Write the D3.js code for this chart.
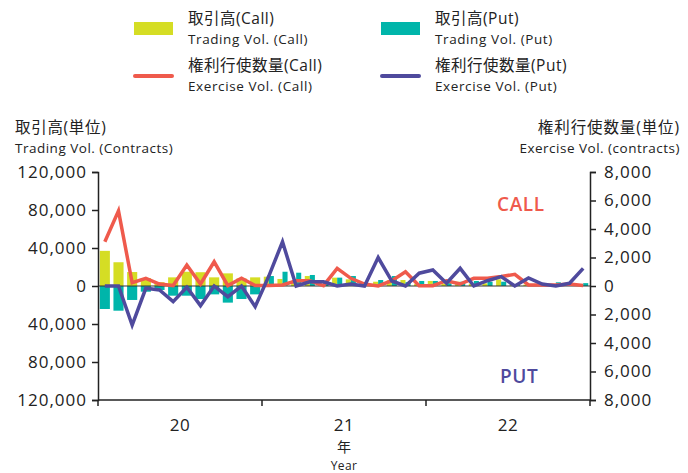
<!DOCTYPE html>
<html><head><meta charset="utf-8">
<script src="https://cdn.jsdelivr.net/npm/d3@7"></script>
<style>
body{margin:0;background:#fff;}
svg text{font-family:"Open Sans","Noto Sans CJK JP",sans-serif;fill:#222;}
</style></head>
<body><svg id="c" width="688" height="473"></svg>
<script>
const years = ["20","21","22"];
const months = [];
years.forEach(y => { for (let m = 1; m <= 12; m++) months.push(y + "-" + String(m).padStart(2,"0")); });

const callVol = [37000,25000,14700,8400,4000,9100,15000,14500,9100,13300,8000,9100,
                 9800,7400,3000,10500,2000,8800,7000,2000,4500,6000,6300,2000,
                 5300,2500,4500,2500,2800,7000,2000,1500,1500,1500,1000,1000];
const putVol  = [-24200,-26000,-14700,-6000,-4200,-10200,-10200,-13700,-8800,-17500,-13700,-8800,
                 10500,15000,14000,11600,3000,8800,10500,2500,6300,10500,4000,5300,
                 5300,3000,4500,5300,4500,4500,2000,2000,1500,3900,1500,3000];
const callEx  = [3100,5270,230,540,140,30,1470,140,1700,30,540,30,
                 30,70,370,370,30,1240,540,140,0,370,1000,20,
                 20,370,140,540,540,660,820,70,70,70,140,30];
const putEx   = [0,0,-2740,-160,-280,-1100,-90,-1380,0,-750,0,-1450,
                 700,3100,0,300,300,0,140,0,2000,350,0,900,
                 1120,190,1240,0,370,660,0,560,140,0,190,1240];
const leftTicks = [-120000,-80000,-40000,0,40000,80000,120000];
const rightTicks = [-8000,-6000,-4000,-2000,0,2000,4000,6000,8000];

const C_CALL = "#d5dd24", C_PUT = "#00b5aa", C_CEX = "#ef5a4c", C_PEX = "#4f4a9d";
const svg = d3.select("#c");
const x0 = 98, x1 = 590, yT = 172, yB = 400;
const x = d3.scaleBand().domain(months).range([x0, x1]).padding(0);
const xYear = d3.scaleBand().domain(years).range([x0, x1]).padding(0);
const yL = d3.scaleLinear().domain([-120000,120000]).range([yB, yT]);
const yR = d3.scaleLinear().domain([-8000,8000]).range([yB, yT]);
const fmt = d => d3.format(",")(Math.abs(d));

// bars
const gw = x.bandwidth() * 0.74;
const bars = svg.append("g");
months.forEach((m, i) => {
  const cx = x(m) + x.bandwidth() / 2;
  const split = putVol[i] >= 0;
  const w = split ? gw / 2 : gw;
  const xc = cx - gw / 2;
  const xp = split ? cx : cx - gw / 2;
  bars.append("rect").attr("x", xc).attr("width", w)
    .attr("y", yL(Math.max(0, callVol[i]))).attr("height", Math.abs(yL(callVol[i]) - yL(0)))
    .attr("fill", C_CALL);
  bars.append("rect").attr("x", xp).attr("width", w)
    .attr("y", yL(Math.max(0, putVol[i]))).attr("height", Math.abs(yL(putVol[i]) - yL(0)))
    .attr("fill", C_PUT);
});

// zero line
svg.append("line").attr("x1", x0).attr("x2", x1).attr("y1", yL(0)).attr("y2", yL(0))
  .attr("stroke", "#333").attr("stroke-width", 1.2);

// lines
const mx = i => x(months[i]) + x.bandwidth() / 2;
const lineC = d3.line().x((d, i) => mx(i)).y(d => yR(d));
svg.append("path").attr("d", lineC(callEx)).attr("fill", "none")
  .attr("stroke", C_CEX).attr("stroke-width", 3.5);
svg.append("path").attr("d", lineC(putEx)).attr("fill", "none")
  .attr("stroke", C_PEX).attr("stroke-width", 3.5);

// axes
const axL = svg.append("g").attr("transform", `translate(${x0},0)`)
  .call(d3.axisLeft(yL).tickValues(leftTicks).tickFormat(fmt).tickSizeOuter(0).tickSize(6).tickPadding(5));
const axR = svg.append("g").attr("transform", `translate(${x1},0)`)
  .call(d3.axisRight(yR).tickValues(rightTicks).tickFormat(fmt).tickSizeOuter(0).tickSize(6).tickPadding(8));
[axL, axR].forEach(a => {
  a.select(".domain").attr("stroke", "#222").attr("stroke-width", 1.5);
  a.selectAll(".tick line").attr("stroke", "#222").attr("stroke-width", 1.5);
  a.selectAll(".tick text").attr("font-size", 17).attr("fill", "#222").attr("letter-spacing", 1)
    .style("font-family", '"Open Sans","Noto Sans CJK JP",sans-serif');
});

// bottom axis
svg.append("line").attr("x1", x0).attr("x2", x1).attr("y1", yB).attr("y2", yB)
  .attr("stroke", "#222").attr("stroke-width", 1.5);
const bounds = years.map(y => xYear(y)).concat([x1]);
bounds.forEach(b => svg.append("line").attr("x1", b).attr("x2", b).attr("y1", yB).attr("y2", yB + 6)
  .attr("stroke", "#222").attr("stroke-width", 1.5));
years.forEach(y => svg.append("text").attr("x", xYear(y) + xYear.bandwidth() / 2).attr("y", 431)
  .attr("text-anchor", "middle").attr("font-size", 17).attr("letter-spacing", 0.5).text(y));
const xm = (x0 + x1) / 2;
svg.append("text").attr("x", xm).attr("y", 452).attr("text-anchor", "middle").attr("font-size", 14).text("年");
svg.append("text").attr("x", xm).attr("y", 470).attr("text-anchor", "middle").attr("font-size", 12).attr("letter-spacing", 0.4).text("Year");

// axis titles
svg.append("text").attr("x", 15).attr("y", 133).attr("font-size", 15.5).attr("letter-spacing", 0.7).text("取引高(単位)");
svg.append("text").attr("x", 15).attr("y", 153).attr("font-size", 13.5).attr("letter-spacing", 0.5).text("Trading Vol. (Contracts)");
svg.append("text").attr("x", 680).attr("y", 133).attr("text-anchor", "end").attr("font-size", 15.5).attr("letter-spacing", 0.9).text("権利行使数量(単位)");
svg.append("text").attr("x", 680).attr("y", 153).attr("text-anchor", "end").attr("font-size", 13.5).attr("letter-spacing", 0.5).text("Exercise Vol. (contracts)");

// CALL / PUT labels
svg.append("text").attr("x", 497).attr("y", 211).attr("font-size", 19).attr("font-weight", 600).attr("letter-spacing", 0.6)
  .style("fill", C_CEX).text("CALL");
svg.append("text").attr("x", 500).attr("y", 383).attr("font-size", 19).attr("font-weight", 600).attr("letter-spacing", 0.6)
  .style("fill", C_PEX).text("PUT");

// legend
const leg = [
  {x: 134, y: 0, type: "rect", c: C_CALL, t1: "取引高(Call)", t2: "Trading Vol. (Call)"},
  {x: 381, y: 0, type: "rect", c: C_PUT, t1: "取引高(Put)", t2: "Trading Vol. (Put)"},
  {x: 134, y: 47, type: "line", c: C_CEX, t1: "権利行使数量(Call)", t2: "Exercise Vol. (Call)"},
  {x: 381, y: 47, type: "line", c: C_PEX, t1: "権利行使数量(Put)", t2: "Exercise Vol. (Put)"}
];
leg.forEach(l => {
  if (l.type === "rect") svg.append("rect").attr("x", l.x).attr("y", l.y + 22).attr("width", 39).attr("height", 13).attr("fill", l.c);
  else svg.append("line").attr("x1", l.x + 1).attr("x2", l.x + 38).attr("y1", l.y + 29).attr("y2", l.y + 29)
    .attr("stroke", l.c).attr("stroke-width", 4).attr("stroke-linecap", "round");
  svg.append("text").attr("x", l.x + 54).attr("y", l.y + 24).attr("font-size", 15.5).attr("letter-spacing", 0.5).text(l.t1);
  svg.append("text").attr("x", l.x + 54).attr("y", l.y + 44).attr("font-size", 13.5).attr("letter-spacing", 0.6).text(l.t2);
});
</script></body></html>
